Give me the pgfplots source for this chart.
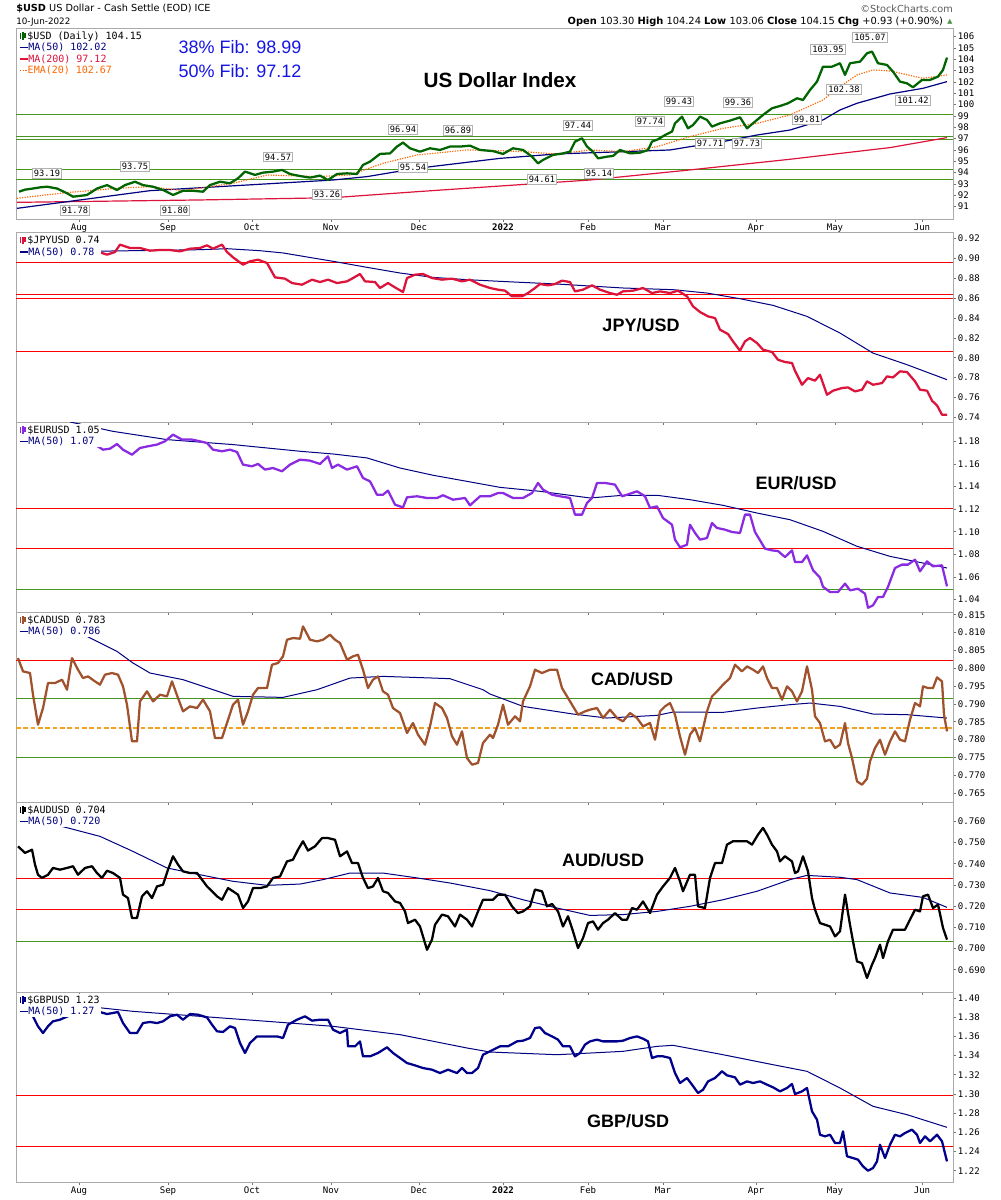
\documentclass[border=0pt]{standalone}
\usepackage{pgfplots}
\pgfplotsset{compat=1.18}
\usepackage{fontspec}
\setmainfont{Liberation Sans}
\newfontfamily\dv{DejaVu Sans}
\newfontfamily\dvm{DejaVu Sans Mono}
\definecolor{framec}{RGB}{170,170,170}
\definecolor{usdg}{RGB}{0,100,0}
\definecolor{ma50}{RGB}{0,0,128}
\definecolor{ma200}{RGB}{220,20,60}
\definecolor{ema}{RGB}{255,102,0}
\definecolor{jpy}{RGB}{220,20,60}
\definecolor{eur}{RGB}{138,43,226}
\definecolor{cad}{RGB}{160,82,45}
\definecolor{aud}{RGB}{0,0,0}
\definecolor{gbp}{RGB}{0,0,139}
\definecolor{hgreen}{RGB}{70,150,30}
\definecolor{hred}{RGB}{255,0,0}
\definecolor{horange}{RGB}{245,160,30}
\definecolor{fib}{RGB}{20,20,230}
\newcommand{\candleicon}[1]{\textcolor{#1}{\rule[0.1ex]{1.3pt}{1.1ex}\kern0.5pt\rule[-0.1ex]{1.3pt}{1.4ex}\kern0.5pt\rule[0.3ex]{1.3pt}{0.9ex}}\kern1pt}
\newcommand{\maicon}[1]{\textcolor{#1}{\rule[0.45ex]{6pt}{1.2pt}}\kern0.5pt}
\newcommand{\dotsicon}[1]{\textcolor{#1}{\rule[0.45ex]{1.2pt}{1.1pt}\kern1pt\rule[0.45ex]{1.2pt}{1.1pt}\kern1pt\rule[0.45ex]{1.2pt}{1.1pt}}\kern0.5pt}
\tikzset{
  leg/.style={anchor=north west, fill=white, inner sep=1pt, align=left, font=\dvm\fontsize{7.5}{8.6}\selectfont},
  pname/.style={font=\bfseries\fontsize{13.5}{14}\selectfont},
  ann/.style={draw=black!30, fill=white, inner sep=1.2pt, font=\dvm\fontsize{6.5}{7}\selectfont},
}
\pgfplotsset{
  panel/.style={
    scale only axis, width=702.75pt, xmin=16, xmax=953,
    axis line style={draw=framec, line width=0.7pt},
    xtick={79,168,252,331,419,503,588,663,756,835,922},
    xticklabels={},
    major tick length=2pt,
    tick style={draw=black!55, line width=0.5pt},
    tick align=outside,
    xtick pos=bottom,
    ytick pos=right, yticklabel pos=right,
    yticklabel style={font=\dvm\fontsize{6.8}{7}\selectfont, inner sep=1.5pt},
    xticklabel style={font=\dvm\fontsize{6.8}{8}\selectfont, inner sep=1.5pt},
    /pgf/number format/assume math mode=true,
    clip=true,
  },
  monthlabels/.style={xticklabels={Aug,Sep,Oct,Nov,Dec,\textbf{2022},Feb,Mar,Apr,May,Jun}},
  price/.style={line width=1.7pt, line join=round},
  maline/.style={ma50, line width=0.75pt},
  hline/.style={line width=0.75pt},
}
\begin{document}
\begin{tikzpicture}
\path[use as bounding box] (0pt,0pt) rectangle (750pt,-900pt);
% header
\node[anchor=west, font=\dv\fontsize{7.3}{8}\selectfont, inner sep=0pt] at (12pt,-6.75pt) {\textbf{\$USD} US Dollar - Cash Settle (EOD) ICE};
\node[anchor=west, font=\dv\fontsize{6.6}{8}\selectfont, inner sep=0pt] at (12pt,-16.5pt) {10-Jun-2022};
\node[anchor=east, font=\dv\fontsize{7.3}{8}\selectfont, inner sep=0pt, text=black!65] at (714.75pt,-6.75pt) {\textcopyright StockCharts.com};
\node[anchor=east, font=\dv\fontsize{7.4}{8}\selectfont, inner sep=0pt] at (707.5pt,-16.5pt) {\textbf{Open} 103.30 \textbf{High} 104.24 \textbf{Low} 103.06 \textbf{Close} 104.15 \textbf{Chg} +0.93 (+0.90\%)};
\node[anchor=center, font=\dv\fontsize{5}{6}\selectfont, inner sep=0pt, text=usdg!70] at (712.5pt,-16.5pt) {▲};

% ---------------- Panel 1: USD
\begin{axis}[panel, monthlabels, at={(12pt,-21pt)}, anchor=north west, height=143.25pt,
  ymin=89.91, ymax=106.76, ytick={91,92,...,106},
  yticklabel style={/pgf/number format/.cd, fixed, precision=0, 1000 sep={}}]
\addplot[hline, hgreen] coordinates {(16,99.15) (953,99.15)};
\addplot[hline, hgreen] coordinates {(16,97.18) (953,97.18)};
\addplot[hline, hgreen] coordinates {(16,96.94) (953,96.94)};
\addplot[hline, hgreen] coordinates {(16,94.26) (953,94.26)};
\addplot[hline, hgreen] coordinates {(16,93.41) (953,93.41)};
\addplot[ma200, line width=0.9pt] coordinates {(17,91.38)(200,91.59)(333,91.79)(417,92.32)(500,92.82)(590,93.35)(690,94.24)(790,95.18)(890,96.21)(947,97.09)};
\addplot[ma50, line width=0.9pt] coordinates {(17,90.85)(150,92.41)(333,93.35)(367,93.65)(417,94.38)(500,95.26)(557,95.65)(623,95.85)(670,96.0)(690,96.29)(723,96.74)(757,97.32)(790,97.76)(823,98.65)(840,99.53)(857,100.12)(890,100.94)(923,101.44)(947,102.03)};
\addplot[ema, densely dotted, line width=0.9pt] coordinates {(17,91.74)(67,92.24)(117,92.62)(150,92.76)(183,92.41)(233,93.06)(267,93.79)(317,93.65)(350,93.79)(383,94.82)(417,95.56)(467,96.0)(500,95.94)(523,95.85)(557,95.65)(590,96.0)(623,95.85)(657,96.29)(690,97.18)(723,97.91)(757,98.35)(790,99.09)(823,100.41)(840,101.59)(857,102.62)(873,103.06)(890,102.97)(923,102.32)(947,102.62)};
\addplot[price, usdg] coordinates {(19,92.32)(25,92.5)(33,92.6)(40,92.7)(47,92.76)(57,92.6)(67,92.18)(73,91.88)(80,91.95)(87,92.03)(97,92.6)(107,92.9)(117,92.47)(125,92.9)(135,93.2)(143,92.9)(153,92.76)(163,92.47)(173,92.03)(183,92.4)(193,92.4)(203,92.32)(210,92.9)(220,93.2)(230,93.06)(238,93.5)(245,94.09)(255,93.8)(263,94.0)(273,94.09)(282,94.24)(290,93.88)(300,93.7)(310,93.56)(320,93.74)(328,93.35)(337,93.88)(347,93.94)(357,93.88)(363,94.68)(370,94.97)(380,95.65)(390,95.7)(397,96.3)(403,96.65)(410,96.15)(420,95.85)(430,96.15)(440,96.0)(450,96.3)(460,96.3)(470,96.38)(480,96.0)(493,95.9)(503,95.65)(513,96.15)(523,96.0)(532,95.41)(538,94.82)(543,95.12)(553,95.56)(563,95.7)(570,95.85)(575,96.74)(582,97.03)(587,96.3)(593,95.85)(598,95.26)(607,95.41)(613,95.47)(620,96.0)(630,95.7)(640,95.76)(648,96.0)(652,96.74)(658,96.94)(665,97.32)(672,97.62)(675,98.35)(682,98.94)(688,97.91)(693,98.2)(700,98.94)(707,98.65)(712,98.06)(720,98.35)(730,98.59)(740,98.88)(747,97.91)(755,98.5)(763,99.09)(772,99.68)(780,99.88)(788,100.12)(797,100.56)(803,100.41)(810,101.29)(817,102.03)(823,103.35)(832,103.35)(840,103.65)(845,102.62)(850,103.65)(860,103.79)(867,104.53)(872,104.68)(878,103.65)(887,103.5)(893,102.91)(900,102.03)(907,101.88)(913,101.53)(922,102.18)(930,102.18)(938,102.47)(943,103.06)(947,104.15)};
% annotations
\node[ann] at (axis cs:47,93.97) {93.19};
\node[ann] at (axis cs:75,90.71) {91.78};
\node[ann] at (axis cs:135,94.59) {93.75};
\node[ann] at (axis cs:175,90.71) {91.80};
\node[ann] at (axis cs:278,95.39) {94.57};
\node[ann] at (axis cs:327,92.12) {93.26};
\node[ann] at (axis cs:403,97.85) {96.94};
\node[ann] at (axis cs:458,97.77) {96.89};
\node[ann] at (axis cs:413,94.5) {95.54};
\node[ann] at (axis cs:542,93.44) {94.61};
\node[ann] at (axis cs:578,98.21) {97.44};
\node[ann] at (axis cs:599,93.97) {95.14};
\node[ann] at (axis cs:650,98.56) {97.74};
\node[ann] at (axis cs:679,100.32) {99.43};
\node[ann] at (axis cs:710,96.62) {97.71};
\node[ann] at (axis cs:738,100.23) {99.36};
\node[ann] at (axis cs:747,96.62) {97.73};
\node[ann] at (axis cs:807,98.74) {99.81};
\node[ann] at (axis cs:828,104.91) {103.95};
\node[ann] at (axis cs:844,101.38) {102.38};
\node[ann] at (axis cs:870,105.97) {105.07};
\node[ann] at (axis cs:913,100.41) {101.42};
\node[font=\bfseries\fontsize{15.5}{16}\selectfont] at (axis cs:500,102.18) {US Dollar Index};
\node[font=\fontsize{13.5}{14}\selectfont, text=fib] at (axis cs:240,105.09) {38\% Fib: 98.99};
\node[font=\fontsize{13.5}{14}\selectfont, text=fib] at (axis cs:240,102.97) {50\% Fib: 97.12};
\node[leg] at ([xshift=1.5pt,yshift=-1.5pt]rel axis cs:0,1) {\candleicon{usdg}\$USD (Daily) 104.15\\ \textcolor{ma50}{\maicon{ma50}MA(50) 102.02}\\ \textcolor{ma200}{\maicon{ma200}MA(200) 97.12}\\ \textcolor{ema}{\dotsicon{ema}EMA(20) 102.67}};
\end{axis}

% ---------------- Panel 2: JPY
\begin{axis}[panel, at={(12pt,-174.5pt)}, anchor=north west, height=142pt,
  ymin=0.73526, ymax=0.92605, ytick={0.74,0.76,0.78,0.80,0.82,0.84,0.86,0.88,0.90,0.92},
  yticklabel style={/pgf/number format/.cd, fixed, fixed zerofill, precision=2}]
\addplot[hline, hred] coordinates {(16,0.8955) (953,0.8955)};
\addplot[hline, hred] coordinates {(16,0.8636) (953,0.8636)};
\addplot[hline, hred] coordinates {(16,0.8595) (953,0.8595)};
\addplot[hline, hred] coordinates {(16,0.8065) (953,0.8065)};
\addplot[maline] coordinates {(86,0.9072)(200,0.9089)(227,0.9099)(260,0.9079)(283,0.9056)(333,0.8972)(367,0.8911)(400,0.8854)(433,0.881)(467,0.8787)(500,0.877)(557,0.8743)(623,0.8703)(673,0.8686)(707,0.8652)(740,0.8595)(773,0.8528)(807,0.8417)(840,0.8249)(873,0.8047)(907,0.793)(947,0.7779)};
\addplot[price, jpy] coordinates {(88,0.9113)(97,0.9072)(107,0.9039)(115,0.9066)(120,0.914)(130,0.9106)(140,0.9106)(150,0.9079)(160,0.9086)(170,0.9086)(180,0.9072)(190,0.9099)(200,0.9106)(207,0.9133)(213,0.9099)(222,0.914)(227,0.9066)(233,0.9012)(243,0.8938)(250,0.8972)(258,0.8988)(267,0.8955)(275,0.881)(285,0.8797)(292,0.8753)(302,0.8736)(312,0.8787)(320,0.8763)(328,0.8787)(337,0.8753)(347,0.877)(353,0.8803)(360,0.8844)(365,0.877)(375,0.8763)(380,0.8703)(388,0.8753)(395,0.8709)(403,0.8662)(407,0.8803)(415,0.8837)(423,0.8844)(432,0.8803)(442,0.8787)(452,0.8797)(462,0.877)(470,0.8787)(480,0.8736)(490,0.8703)(498,0.8686)(505,0.8676)(512,0.8619)(522,0.8619)(528,0.8652)(535,0.8703)(540,0.8743)(548,0.873)(555,0.8743)(562,0.8777)(570,0.8763)(575,0.8669)(583,0.8686)(592,0.873)(600,0.8686)(610,0.8652)(617,0.8635)(623,0.8669)(633,0.8676)(643,0.8703)(652,0.8652)(660,0.8669)(670,0.8652)(678,0.8676)(687,0.8619)(693,0.8518)(700,0.8461)(708,0.8417)(715,0.84)(720,0.8283)(728,0.8239)(733,0.8165)(740,0.8071)(745,0.8165)(750,0.8199)(757,0.8148)(763,0.8081)(772,0.8058)(778,0.798)(785,0.7957)(792,0.7947)(795,0.7869)(802,0.7728)(808,0.7795)(815,0.7769)(820,0.7829)(827,0.7627)(833,0.7668)(842,0.7695)(848,0.7701)(855,0.7661)(862,0.7678)(867,0.7762)(873,0.7728)(882,0.7745)(887,0.7812)(893,0.7802)(900,0.7863)(907,0.7856)(915,0.7762)(920,0.7678)(927,0.7668)(932,0.7567)(937,0.752)(942,0.7426)(947,0.7426)};
\node[pname] at (axis cs:641,0.833) {JPY/USD};
\node[leg] at ([xshift=1.5pt,yshift=-1.5pt]rel axis cs:0,1) {\candleicon{jpy}\$JPYUSD 0.74\\ \textcolor{ma50}{\maicon{ma50}MA(50) 0.78}};
\end{axis}

% ---------------- Panel 3: EUR
\begin{axis}[panel, at={(12pt,-316.5pt)}, anchor=north west, height=142.5pt,
  ymin=1.02912, ymax=1.19706, ytick={1.04,1.06,1.08,1.10,1.12,1.14,1.16,1.18},
  yticklabel style={/pgf/number format/.cd, fixed, fixed zerofill, precision=2}]
\addplot[hline, hred] coordinates {(16,1.1208) (953,1.1208)};
\addplot[hline, hred] coordinates {(16,1.0854) (953,1.0854)};
\addplot[hline, hgreen] coordinates {(16,1.0491) (953,1.0491)};
\addplot[maline] coordinates {(70,1.1971)(113,1.1888)(167,1.1815)(233,1.1771)(300,1.1712)(333,1.1688)(367,1.1653)(400,1.1564)(433,1.15)(467,1.1446)(500,1.1393)(540,1.1358)(590,1.1299)(623,1.1323)(657,1.1323)(690,1.1284)(723,1.1234)(757,1.1166)(790,1.1107)(823,1.1004)(857,1.0872)(890,1.0783)(923,1.0724)(947,1.068)};
\addplot[price, eur] coordinates {(88,1.1844)(95,1.1771)(103,1.1726)(110,1.1735)(117,1.1776)(123,1.1726)(132,1.1682)(140,1.1741)(148,1.1756)(157,1.1771)(165,1.18)(173,1.1859)(182,1.1815)(192,1.1815)(200,1.18)(207,1.1785)(213,1.1726)(222,1.1712)(230,1.1726)(237,1.1706)(243,1.1594)(252,1.1579)(258,1.16)(265,1.155)(273,1.1564)(282,1.1535)(290,1.1594)(300,1.1638)(310,1.1629)(320,1.16)(328,1.1667)(332,1.1564)(338,1.1594)(347,1.155)(357,1.1579)(363,1.1476)(370,1.1446)(377,1.1328)(383,1.1328)(388,1.1364)(395,1.124)(403,1.1216)(407,1.1305)(417,1.1314)(427,1.1299)(437,1.1299)(443,1.1323)(453,1.1284)(465,1.1299)(470,1.1234)(480,1.1314)(490,1.1314)(498,1.1343)(503,1.1343)(513,1.1299)(523,1.1299)(532,1.1343)(538,1.1432)(543,1.1373)(552,1.1328)(560,1.1314)(570,1.1299)(575,1.1152)(582,1.1152)(587,1.1255)(592,1.1299)(597,1.1432)(605,1.1432)(615,1.1417)(622,1.1314)(627,1.1328)(637,1.1358)(645,1.1314)(650,1.1211)(657,1.1225)(663,1.1122)(672,1.1063)(675,1.0931)(680,1.0863)(687,1.0886)(690,1.1063)(695,1.099)(700,1.0931)(707,1.0945)(712,1.1078)(717,1.1034)(725,1.1019)(732,1.0998)(740,1.099)(745,1.1152)(750,1.1152)(755,1.0998)(760,1.0925)(765,1.0851)(772,1.0836)(778,1.083)(785,1.0777)(792,1.0836)(795,1.0733)(802,1.0733)(807,1.0792)(813,1.0661)(820,1.0595)(823,1.0514)(830,1.0468)(838,1.0468)(845,1.0542)(850,1.0483)(858,1.0497)(865,1.0453)(868,1.0329)(873,1.035)(878,1.0424)(883,1.0424)(888,1.0514)(895,1.068)(902,1.071)(908,1.071)(915,1.0754)(920,1.0651)(927,1.0739)(933,1.0695)(942,1.0704)(947,1.0518)};
\node[pname] at (axis cs:796,1.1431) {EUR/USD};
\node[leg] at ([xshift=1.5pt,yshift=-1.5pt]rel axis cs:0,1) {\candleicon{eur}\$EURUSD 1.05\\ \textcolor{ma50}{\maicon{ma50}MA(50) 1.07}};
\end{axis}

% ---------------- Panel 4: CAD
\begin{axis}[panel, at={(12pt,-459pt)}, anchor=north west, height=142.5pt,
  ymin=0.76248, ymax=0.81576, ytick={0.765,0.770,0.775,0.780,0.785,0.790,0.795,0.800,0.805,0.810,0.815},
  yticklabel style={/pgf/number format/.cd, fixed, fixed zerofill, precision=3}]
\addplot[hline, hred] coordinates {(16,0.80222) (953,0.80222)};
\addplot[hline, hgreen] coordinates {(16,0.79137) (953,0.79137)};
\addplot[draw=horange, line width=0.95pt, dash pattern=on 3.5pt off 2pt] coordinates {(16,0.78324) (953,0.78324)};
\addplot[hline, hgreen] coordinates {(16,0.77502) (953,0.77502)};
\addplot[maline] coordinates {(87,0.80893)(117,0.80472)(133,0.80145)(150,0.79865)(183,0.79678)(233,0.79211)(283,0.79182)(317,0.79397)(350,0.79724)(383,0.79771)(433,0.79724)(450,0.79706)(483,0.79397)(490,0.79276)(523,0.7893)(573,0.78715)(607,0.78603)(657,0.78678)(673,0.78771)(723,0.78762)(757,0.78883)(790,0.78977)(810,0.79023)(840,0.7893)(873,0.78715)(907,0.78697)(947,0.78603)};
\addplot[price, cad] coordinates {(18,0.80285)(23,0.79911)(30,0.79865)(33,0.79257)(38,0.78416)(43,0.78883)(48,0.79584)(55,0.79584)(62,0.79678)(67,0.79397)(72,0.80285)(78,0.79958)(83,0.79724)(88,0.79771)(95,0.79631)(100,0.79538)(105,0.79818)(112,0.79865)(118,0.79818)(123,0.79491)(127,0.78977)(132,0.77949)(137,0.77949)(140,0.7907)(147,0.79351)(153,0.7907)(160,0.79257)(167,0.7921)(172,0.79631)(178,0.79164)(183,0.7879)(190,0.7893)(197,0.78883)(203,0.79117)(210,0.7879)(215,0.78042)(222,0.78042)(227,0.78463)(233,0.78977)(238,0.79117)(243,0.78416)(248,0.7879)(253,0.79257)(258,0.79444)(267,0.79444)(272,0.80098)(278,0.80145)(283,0.80332)(287,0.80799)(293,0.80846)(300,0.80827)(303,0.81173)(310,0.80799)(317,0.80752)(323,0.80799)(330,0.80939)(335,0.80799)(340,0.80706)(347,0.80238)(353,0.80332)(358,0.80379)(363,0.79958)(368,0.79444)(373,0.79678)(378,0.79771)(383,0.79351)(388,0.79257)(393,0.78883)(400,0.78743)(407,0.78183)(413,0.78463)(418,0.78136)(425,0.77855)(430,0.7837)(435,0.79023)(442,0.78883)(447,0.78603)(452,0.78089)(457,0.77855)(462,0.78229)(467,0.77482)(472,0.77295)(478,0.77342)(483,0.77902)(490,0.78136)(493,0.78042)(498,0.78416)(503,0.78977)(508,0.78416)(515,0.7865)(520,0.7851)(523,0.7907)(530,0.79491)(535,0.79958)(542,0.79865)(550,0.79958)(557,0.79958)(562,0.79444)(568,0.79164)(573,0.7893)(578,0.78697)(585,0.7879)(590,0.78837)(597,0.78883)(603,0.78603)(610,0.78837)(617,0.78603)(623,0.7851)(630,0.78743)(637,0.78603)(643,0.7837)(650,0.78463)(655,0.77995)(660,0.7879)(665,0.7893)(670,0.79023)(675,0.78697)(680,0.78089)(685,0.77575)(690,0.78136)(695,0.78323)(700,0.77949)(707,0.7879)(712,0.79211)(717,0.79351)(723,0.79538)(730,0.79724)(735,0.80098)(742,0.79911)(747,0.80051)(753,0.79958)(758,0.79865)(763,0.80051)(767,0.79724)(772,0.79444)(777,0.79444)(782,0.79117)(787,0.79491)(792,0.79351)(797,0.7907)(802,0.79351)(807,0.80051)(812,0.79397)(815,0.7865)(820,0.78463)(825,0.77949)(830,0.77995)(835,0.77762)(840,0.77855)(845,0.78463)(848,0.77902)(852,0.77482)(857,0.76828)(862,0.76734)(867,0.76902)(870,0.77388)(875,0.77762)(880,0.77995)(885,0.77575)(890,0.77949)(895,0.78229)(900,0.77995)(905,0.77949)(910,0.78556)(915,0.79023)(920,0.7893)(923,0.79491)(928,0.79444)(933,0.79444)(937,0.79743)(942,0.79631)(944,0.78697)(947,0.78229)};
\node[pname] at (axis cs:632,0.79697) {CAD/USD};
\node[leg] at ([xshift=1.5pt,yshift=-1.5pt]rel axis cs:0,1) {\candleicon{cad}\$CADUSD 0.783\\ \textcolor{ma50}{\maicon{ma50}MA(50) 0.786}};
\end{axis}

% ---------------- Panel 5: AUD
\begin{axis}[panel, at={(12pt,-601.5pt)}, anchor=north west, height=142.5pt,
  ymin=0.67948, ymax=0.76911, ytick={0.69,0.70,0.71,0.72,0.73,0.74,0.75,0.76},
  yticklabel style={/pgf/number format/.cd, fixed, fixed zerofill, precision=3}]
\addplot[hline, hred] coordinates {(16,0.7331) (953,0.7331)};
\addplot[hline, hred] coordinates {(16,0.7185) (953,0.7185)};
\addplot[hline, hgreen] coordinates {(16,0.7034) (953,0.7034)};
\addplot[maline] coordinates {(62,0.7576)(100,0.7529)(133,0.7458)(150,0.7419)(167,0.738)(200,0.7348)(233,0.7317)(267,0.7298)(300,0.7304)(323,0.7325)(350,0.7356)(383,0.7356)(417,0.7333)(450,0.7309)(490,0.7273)(523,0.723)(557,0.7191)(590,0.7156)(623,0.716)(657,0.7175)(690,0.7199)(723,0.723)(757,0.727)(790,0.7325)(807,0.7345)(840,0.7336)(857,0.7325)(890,0.7262)(923,0.7241)(947,0.7194)};
\addplot[price, aud] coordinates {(18,0.7482)(25,0.7451)(32,0.7466)(35,0.7396)(38,0.7348)(42,0.7333)(48,0.7348)(53,0.738)(60,0.7372)(67,0.738)(73,0.7388)(78,0.7348)(85,0.738)(92,0.7388)(97,0.7356)(102,0.7333)(107,0.7367)(113,0.7356)(120,0.7333)(123,0.7254)(128,0.7238)(132,0.7144)(137,0.7144)(142,0.7246)(147,0.727)(152,0.7238)(157,0.7293)(163,0.7301)(168,0.7372)(173,0.7435)(178,0.7396)(183,0.7364)(190,0.7356)(197,0.7356)(202,0.7325)(207,0.7293)(212,0.727)(217,0.7246)(222,0.723)(228,0.7285)(233,0.727)(238,0.7254)(243,0.7191)(248,0.7222)(253,0.7285)(260,0.7285)(267,0.7293)(273,0.7333)(280,0.734)(287,0.7411)(293,0.7419)(298,0.7466)(303,0.7506)(308,0.7462)(315,0.7482)(322,0.7521)(328,0.7521)(335,0.7513)(340,0.7435)(347,0.7458)(352,0.7403)(358,0.7403)(363,0.7333)(368,0.7285)(373,0.7293)(378,0.7333)(383,0.727)(388,0.7262)(395,0.7222)(400,0.7215)(405,0.7175)(408,0.712)(415,0.7136)(420,0.7104)(427,0.6994)(432,0.7042)(435,0.7112)(442,0.716)(448,0.7152)(455,0.7104)(460,0.716)(467,0.7136)(472,0.7104)(478,0.7175)(483,0.723)(490,0.723)(493,0.723)(498,0.7254)(505,0.7254)(512,0.7199)(518,0.7167)(523,0.7175)(530,0.7199)(535,0.7278)(542,0.727)(547,0.7199)(552,0.721)(558,0.7175)(563,0.7104)(568,0.7152)(573,0.7081)(578,0.7002)(583,0.7049)(588,0.712)(593,0.7128)(598,0.7089)(603,0.712)(608,0.7136)(615,0.7167)(622,0.7136)(627,0.7136)(632,0.7191)(637,0.7183)(643,0.7222)(650,0.7167)(657,0.7254)(663,0.7293)(670,0.7333)(675,0.738)(680,0.7317)(683,0.727)(690,0.7348)(695,0.7348)(698,0.7199)(705,0.7191)(710,0.7333)(715,0.7403)(722,0.7403)(727,0.749)(733,0.7506)(740,0.7506)(747,0.7506)(752,0.749)(758,0.7537)(763,0.7569)(767,0.7537)(772,0.749)(777,0.7458)(780,0.7411)(785,0.7435)(792,0.7411)(795,0.7356)(798,0.7364)(803,0.7435)(808,0.7364)(812,0.7238)(815,0.7183)(820,0.712)(825,0.7112)(830,0.7104)(835,0.7057)(840,0.7081)(845,0.7254)(850,0.7112)(853,0.7034)(857,0.6939)(862,0.6931)(867,0.6861)(872,0.6924)(875,0.6955)(880,0.7018)(883,0.6955)(888,0.7034)(893,0.7089)(898,0.7089)(905,0.7089)(910,0.7136)(915,0.7183)(920,0.7175)(923,0.7246)(928,0.7254)(933,0.7191)(938,0.7207)(943,0.7097)(947,0.7042)};
\node[pname] at (axis cs:603,0.74174) {AUD/USD};
\node[leg] at ([xshift=1.5pt,yshift=-1.5pt]rel axis cs:0,1) {\candleicon{aud}\$AUDUSD 0.704\\ \textcolor{ma50}{\maicon{ma50}MA(50) 0.720}};
\end{axis}

% ---------------- Panel 6: GBP
\begin{axis}[panel, monthlabels, at={(12pt,-744pt)}, anchor=north west, height=142.5pt,
  ymin=1.20822, ymax=1.40625, ytick={1.22,1.24,1.26,1.28,1.30,1.32,1.34,1.36,1.38,1.40},
  yticklabel style={/pgf/number format/.cd, fixed, fixed zerofill, precision=2}]
\addplot[hline, hred] coordinates {(16,1.2982) (953,1.2982)};
\addplot[hline, hred] coordinates {(16,1.245) (953,1.245)};
\addplot[maline] coordinates {(87,1.3913)(133,1.3861)(200,1.3809)(267,1.3757)(333,1.3705)(400,1.3618)(467,1.3479)(490,1.3437)(557,1.3409)(623,1.3444)(657,1.3496)(673,1.3507)(723,1.3409)(773,1.3305)(807,1.3236)(840,1.3062)(873,1.2871)(907,1.2784)(947,1.2652)};
\addplot[price, gbp] coordinates {(33,1.3809)(38,1.3705)(43,1.3635)(48,1.3705)(53,1.3757)(60,1.3774)(70,1.382)(80,1.388)(88,1.3913)(95,1.3878)(100,1.3854)(107,1.3833)(113,1.3844)(118,1.3854)(123,1.3739)(130,1.3635)(137,1.3635)(143,1.3739)(150,1.375)(157,1.3739)(163,1.3757)(170,1.3809)(177,1.3826)(183,1.3774)(190,1.3833)(198,1.3826)(207,1.3798)(212,1.3722)(217,1.3653)(223,1.3646)(230,1.3705)(235,1.3687)(240,1.3531)(245,1.3427)(250,1.3531)(257,1.36)(263,1.36)(270,1.36)(277,1.36)(283,1.3583)(288,1.3722)(297,1.3774)(305,1.3809)(312,1.3764)(320,1.3774)(328,1.3774)(333,1.367)(340,1.3635)(347,1.367)(348,1.3496)(355,1.3496)(360,1.3548)(363,1.3392)(370,1.3392)(378,1.3427)(387,1.3486)(393,1.3427)(400,1.3375)(407,1.3322)(415,1.3298)(423,1.327)(432,1.3253)(440,1.3218)(448,1.3253)(457,1.3218)(462,1.327)(467,1.3218)(472,1.3218)(478,1.327)(483,1.3409)(490,1.3444)(498,1.3486)(500,1.3496)(508,1.3496)(517,1.3548)(523,1.3555)(530,1.3583)(535,1.3687)(540,1.3694)(545,1.3635)(552,1.36)(558,1.3566)(563,1.3496)(570,1.3496)(575,1.3392)(580,1.3427)(585,1.3514)(590,1.3548)(597,1.3566)(603,1.3548)(610,1.3548)(617,1.3548)(623,1.3555)(630,1.3583)(637,1.36)(643,1.3576)(648,1.3548)(652,1.3375)(657,1.3392)(663,1.3392)(670,1.3375)(675,1.3218)(680,1.3114)(687,1.3166)(692,1.3097)(698,1.301)(703,1.3044)(708,1.3131)(715,1.3166)(722,1.3236)(727,1.3194)(735,1.3173)(740,1.3097)(747,1.3131)(753,1.3114)(760,1.3131)(767,1.3097)(773,1.3069)(780,1.3027)(787,1.3062)(792,1.3104)(795,1.2999)(802,1.3027)(807,1.3062)(812,1.2819)(817,1.2732)(820,1.2575)(825,1.2558)(830,1.2575)(835,1.2489)(840,1.2489)(843,1.261)(847,1.235)(853,1.2332)(858,1.2315)(863,1.2245)(868,1.22)(873,1.2228)(877,1.2297)(880,1.2471)(885,1.2332)(890,1.2471)(895,1.2575)(900,1.2558)(905,1.2593)(912,1.2628)(917,1.2575)(920,1.2489)(925,1.2558)(930,1.2506)(937,1.2575)(942,1.2506)(947,1.2297)};
\node[pname] at (axis cs:628,1.2718) {GBP/USD};
\node[leg] at ([xshift=1.5pt,yshift=-1.5pt]rel axis cs:0,1) {\candleicon{gbp}\$GBPUSD 1.23\\ \textcolor{ma50}{\maicon{ma50}MA(50) 1.27}};
\end{axis}
\end{tikzpicture}
\end{document}
